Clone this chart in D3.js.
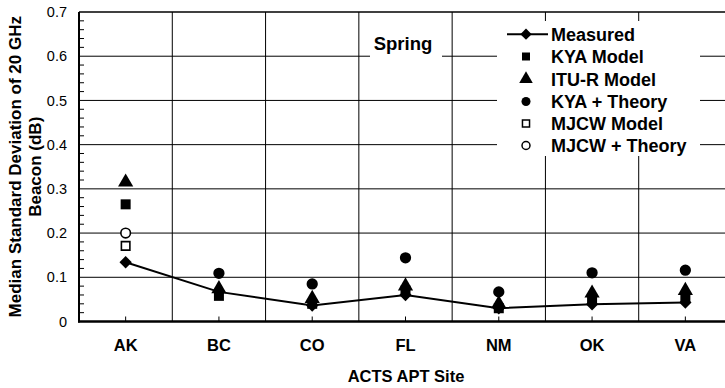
<!DOCTYPE html>
<html><head><meta charset="utf-8">
<script src="https://cdn.jsdelivr.net/npm/d3@7"></script>
<style>body{margin:0;background:#fff}svg{display:block;font-family:"Liberation Sans",Arial,sans-serif}</style>
</head><body><svg id="c" width="725" height="388"></svg>
<script>
const categories = ["AK","BC","CO","FL","NM","OK","VA"];
const measured   = [0.134,0.067,0.036,0.060,0.030,0.039,0.043];
const kyaModel   = [0.265,0.058,0.040,0.070,0.030,0.050,0.055];
const ituModel   = [0.315,0.074,0.052,0.080,0.040,0.064,0.070];
const kyaTheory  = [null,0.109,0.085,0.144,0.067,0.110,0.116];
const mjcwModel  = [0.171,null,null,null,null,null,null];
const mjcwTheory = [0.200,null,null,null,null,null,null];
const yTicks = [0,0.1,0.2,0.3,0.4,0.5,0.6,0.7];
const legendLabels = ["Measured","KYA Model","ITU-R Model","KYA + Theory","MJCW Model","MJCW + Theory"];

const svg = d3.select("#c");
const L=79, T=12, B=321.5, R=732;
const x = d3.scaleBand().domain(categories).range([L,R]);
const y = d3.scaleLinear().domain([0,0.7]).range([B,T]);
const cx = c => x(c)+x.bandwidth()/2;

// grid
const g = svg.append("g");
yTicks.filter(v=>v>0&&v<0.7).forEach(v=>{
  g.append("line").attr("x1",L).attr("x2",725).attr("y1",y(v)).attr("y2",y(v)).attr("stroke","#000").attr("stroke-width",1);
});
categories.slice(1).forEach(c=>{
  g.append("line").attr("x1",x(c)).attr("x2",x(c)).attr("y1",T).attr("y2",B).attr("stroke","#000").attr("stroke-width",1);
});
// minor y ticks
d3.range(0,0.7,0.02).forEach(v=>{
  if (Math.abs(v*10-Math.round(v*10))<1e-6) return;
  g.append("line").attr("x1",L).attr("x2",L+5).attr("y1",y(v)).attr("y2",y(v)).attr("stroke","#000").attr("stroke-width",1);
});
// x ticks
categories.forEach(c=>{
  g.append("line").attr("x1",cx(c)).attr("x2",cx(c)).attr("y1",B).attr("y2",B-5).attr("stroke","#000").attr("stroke-width",1);
});
// top border
svg.append("line").attr("x1",L).attr("x2",725).attr("y1",T).attr("y2",T).attr("stroke","#000").attr("stroke-width",1.5);

// white boxes
svg.append("rect").attr("x",370).attr("y",30).attr("width",72).attr("height",30).attr("fill","#fff");
svg.append("rect").attr("x",497).attr("y",21).attr("width",203).attr("height",135).attr("fill","#fff");

// axes
const yAxis = d3.axisLeft(y).tickValues(yTicks).tickSize(0).tickPadding(12).tickFormat(d=>d===0?"0":d3.format(".1f")(d));
const ya = svg.append("g").attr("transform",`translate(${L},0)`).call(yAxis);
ya.select(".domain").remove();
ya.selectAll("text").attr("font-size",14.5).attr("font-family","Liberation Sans, Arial, sans-serif").attr("fill","#000");
svg.append("line").attr("x1",L).attr("x2",L).attr("y1",T).attr("y2",B+1).attr("stroke","#000").attr("stroke-width",2);
svg.append("line").attr("x1",L-1).attr("x2",725).attr("y1",B).attr("y2",B).attr("stroke","#000").attr("stroke-width",2.5);

const xAxis = d3.axisBottom(x).tickSize(0).tickPadding(18);
const xa = svg.append("g").attr("transform",`translate(0,${B})`).call(xAxis);
xa.select(".domain").remove();
xa.selectAll("text").attr("font-size",16.5).attr("font-weight","bold").attr("font-family","Liberation Sans, Arial, sans-serif").attr("fill","#000");

// titles
svg.append("text").attr("x",406).attr("y",382).attr("text-anchor","middle").attr("font-size",16.5).attr("font-weight","bold").text("ACTS APT Site");
const yt = svg.append("text").attr("transform",`translate(0,${(T+B)/2}) rotate(-90)`).attr("text-anchor","middle").attr("font-size",17).attr("font-weight","bold");
yt.append("tspan").attr("x",0).attr("y",21).text("Median Standard Deviation of 20 GHz");
yt.append("tspan").attr("x",0).attr("y",41).text("Beacon (dB)");

svg.append("text").attr("x",403).attr("y",50).attr("text-anchor","middle").attr("font-size",18.5).attr("font-weight","bold").text("Spring");

// symbols
const sym = {
  square: d3.symbol().type(d3.symbolSquare).size(100),
  triangle: d3.symbol().type(d3.symbolTriangle).size(100),
  circle: d3.symbol().type(d3.symbolCircle).size(100),
  osquare: d3.symbol().type(d3.symbolSquare).size(72),
  ocircle: d3.symbol().type(d3.symbolCircle).size(72)
};
function drawPts(vals, s, open){
  svg.append("g").selectAll("path").data(categories.map((c,i)=>({c,v:vals[i]})).filter(d=>d.v!=null))
    .join("path").attr("d",sym[s]).attr("transform",d=>`translate(${cx(d.c)},${y(d.v)})`)
    .attr("fill",open?"#fff":"#000").attr("stroke","#000").attr("stroke-width",open?1.6:0);
}
drawPts(kyaTheory,"circle");
drawPts(kyaModel,"square");
drawPts(ituModel,"triangle");
drawPts(mjcwModel,"osquare",true);
drawPts(mjcwTheory,"ocircle",true);
svg.append("path").datum(categories.map((c,i)=>[cx(c),y(measured[i])]))
  .attr("d",d3.line()).attr("fill","none").attr("stroke","#000").attr("stroke-width",2);
svg.append("g").selectAll("path").data(categories.map((c,i)=>({c,v:measured[i]})))
  .join("path").attr("d",d3.symbol().type(d3.symbolSquare).size(76)).attr("transform",d=>`translate(${cx(d.c)},${y(d.v)}) rotate(45)`).attr("fill","#000");

// legend
const lg = svg.append("g");
const lx = 526, tx = 551, base = [40.7,63,85.5,108,130,152];
const lsym = ["diamond","square","triangle","circle","osquare","ocircle"];
const lsz = {square:64,triangle:80,circle:64,osquare:50,ocircle:50};
legendLabels.forEach((t,i)=>{
  const cy = base[i]-6.5;
  if (i===0){
    lg.append("line").attr("x1",507).attr("x2",548).attr("y1",cy).attr("y2",cy).attr("stroke","#000").attr("stroke-width",2);
    lg.append("path").attr("d",d3.symbol().type(d3.symbolSquare).size(64)).attr("transform",`translate(${lx},${cy}) rotate(45)`).attr("fill","#000");
  } else {
    const s=lsym[i], open = s[0]==="o";
    const type = {square:d3.symbolSquare,triangle:d3.symbolTriangle,circle:d3.symbolCircle,osquare:d3.symbolSquare,ocircle:d3.symbolCircle}[s];
    lg.append("path").attr("d",d3.symbol().type(type).size(lsz[s])).attr("transform",`translate(${lx},${cy})`)
      .attr("fill",open?"#fff":"#000").attr("stroke","#000").attr("stroke-width",open?1.5:0);
  }
  lg.append("text").attr("x",tx).attr("y",base[i]).attr("font-size",18).attr("font-weight","bold").text(t);
});
</script></body></html>
